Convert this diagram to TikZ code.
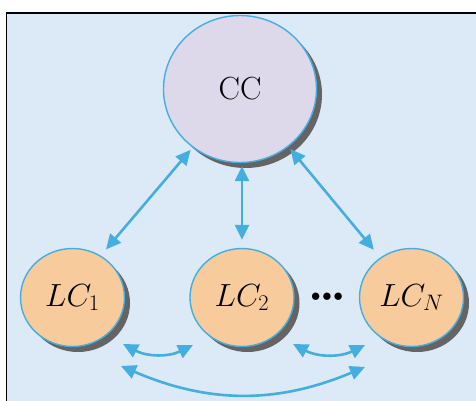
\RequirePackage{fix-cm}
\documentclass[tikz,border=0pt]{standalone}
\usetikzlibrary{shapes.geometric,shadows,arrows.meta,calc}

\definecolor{panelbg}{RGB}{220,233,246}
\definecolor{ccfill}{RGB}{221,216,234}
\definecolor{lcfill}{RGB}{247,203,155}
\definecolor{linkblue}{RGB}{68,174,224}
\definecolor{shadowgray}{RGB}{100,100,100}

\tikzset{
  controller/.style={ellipse, draw=linkblue, line width=1.4pt, inner sep=0pt,
    drop shadow={shadow xshift=5.5pt, shadow yshift=-5.5pt, fill=shadowgray, opacity=1},
    font=\fontsize{32}{38}\selectfont},
  central/.style={controller, fill=ccfill, minimum width=153pt, minimum height=147pt},
  local/.style={controller, fill=lcfill, minimum width=104pt, minimum height=98pt},
  link/.style={linkblue, line width=2.6pt, {Triangle[length=15pt,width=14pt]}-{Triangle[length=15pt,width=14pt]}},
}

\begin{document}
\begin{tikzpicture}[x=1pt, y=-1pt]
  \clip (0,0) rectangle (476,401);
  % panel
  \draw[fill=panelbg, line width=1.5pt] (6.3,13.2) rectangle (490,420);

  % controllers
  \node[central] (cc)  at (240,89)    {CC};
  \node[local]   (lc1) at (72.5,297.5) {$LC_1$};
  \node[local]   (lc2) at (242,297.5)  {$LC_2$};
  \node[local]   (lcn) at (411.5,297.5) {$LC_N$};
  \node[font=\fontsize{33}{38}\selectfont, inner sep=0pt] (dots) at (327,299)
    {\textbullet\kern-12.5pt\textbullet\kern-12.5pt\textbullet};

  % central <-> local links
  \draw[link, shorten <=3pt, shorten >=8pt] (cc.231) -- (lc1.56);
  \draw[link, shorten <=3pt, shorten >=8pt] (lc2.north |- cc.south) -- (lc2.north);
  \draw[link, shorten <=3pt, shorten >=10pt] (cc.310) -- (lcn.128);

  % local <-> local links
  \coordinate (a1) at ($(lc1)+(50.5,46.5)$);
  \coordinate (a2) at ($(lc2)+(-49,47.5)$);
  \coordinate (b1) at ($(lc2)+(51,46.5)$);
  \coordinate (b2) at ($(lcn)+(-46.5,47.5)$);
  \coordinate (c1) at ($(lc1)+(48.5,68.5)$);
  \coordinate (c2) at ($(lcn)+(-46.5,69.5)$);
  \draw[link] (a1) to[bend right=27] (a2);
  \draw[link] (b1) to[bend right=27] (b2);
  \draw[link] (c1) to[bend right=23] (c2);
\end{tikzpicture}
\end{document}
